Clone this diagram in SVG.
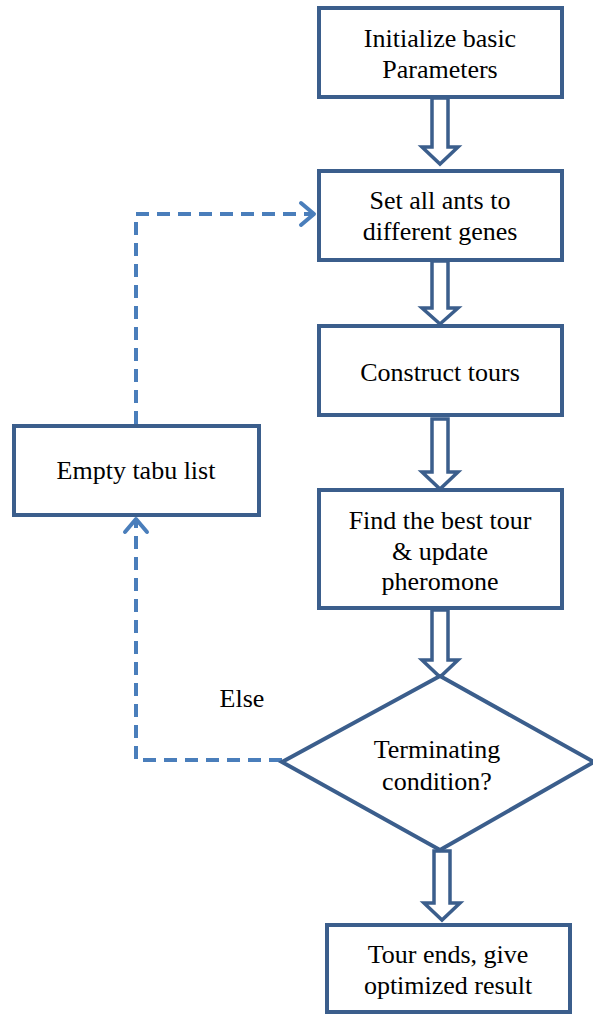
<svg xmlns="http://www.w3.org/2000/svg" width="593" height="1014" viewBox="0 0 593 1014">
<style>
.box{fill:#fff;stroke:#3b5e8c;stroke-width:4}
.harrow{fill:#fff;stroke:#3b5e8c;stroke-width:3.5;stroke-linejoin:miter}
.dash{fill:none;stroke:#4a7ebb;stroke-width:4;stroke-dasharray:13 8}
.head{fill:none;stroke:#4a7ebb;stroke-width:4;stroke-linecap:round;stroke-linejoin:round}
.t{font-size:26px;fill:#000;text-anchor:middle}
</style>
<rect width="593" height="1014" fill="#fff"/>
<g font-family="Liberation Serif, Times New Roman, DejaVu Serif, serif">
<g id="connectors">
<polygon class="harrow" points="432,98 448,98 448,147 458,147 440,164 422,147 432,147"/>
<polygon class="harrow" points="432,261 448,261 448,308 458,308 440,324 422,308 432,308"/>
<polygon class="harrow" points="432,419 448,419 448,472 458,472 440,489 422,472 432,472"/>
<polygon class="harrow" points="432,610 448,610 448,660 458,660 440,677 422,660 432,660"/>
<polygon class="harrow" points="434,851 450,851 450,903 460,903 442,920 424,903 434,903"/>
<path class="dash" d="M282,760 H136 V520"/>
<path class="head" d="M125,532 L136,519 L147,532"/>
<path class="dash" d="M136,424 V214 H313"/>
<path class="head" d="M301,203 L314,214 L301,225"/>
<text class="t" x="242" y="707">Else</text>
</g>
<g id="n1">
<rect class="box" x="319" y="8" width="243" height="89"/>
<text class="t" x="440" y="47">Initialize basic</text>
<text class="t" x="440" y="78">Parameters</text>
</g>
<g id="n2">
<rect class="box" x="319" y="171" width="243" height="89"/>
<text class="t" x="440" y="209">Set all ants to</text>
<text class="t" x="440" y="240">different genes</text>
</g>
<g id="n3">
<rect class="box" x="319" y="326" width="243" height="89"/>
<text class="t" x="440" y="381">Construct tours</text>
</g>
<g id="n4">
<rect class="box" x="319" y="490" width="243" height="118"/>
<text class="t" x="440" y="529">Find the best tour</text>
<text class="t" x="440" y="560">&amp; update</text>
<text class="t" x="440" y="590">pheromone</text>
</g>
<g id="n5">
<polygon class="box" points="440,676 594,762 440,850 282,762"/>
<text class="t" x="437" y="758">Terminating</text>
<text class="t" x="437" y="790">condition?</text>
</g>
<g id="n6">
<rect class="box" x="14" y="426" width="245" height="89"/>
<text class="t" x="136" y="479">Empty tabu list</text>
</g>
<g id="n7">
<rect class="box" x="327" y="925" width="243" height="87"/>
<text class="t" x="448" y="963">Tour ends, give</text>
<text class="t" x="448" y="994">optimized result</text>
</g>
</g>
</svg>
